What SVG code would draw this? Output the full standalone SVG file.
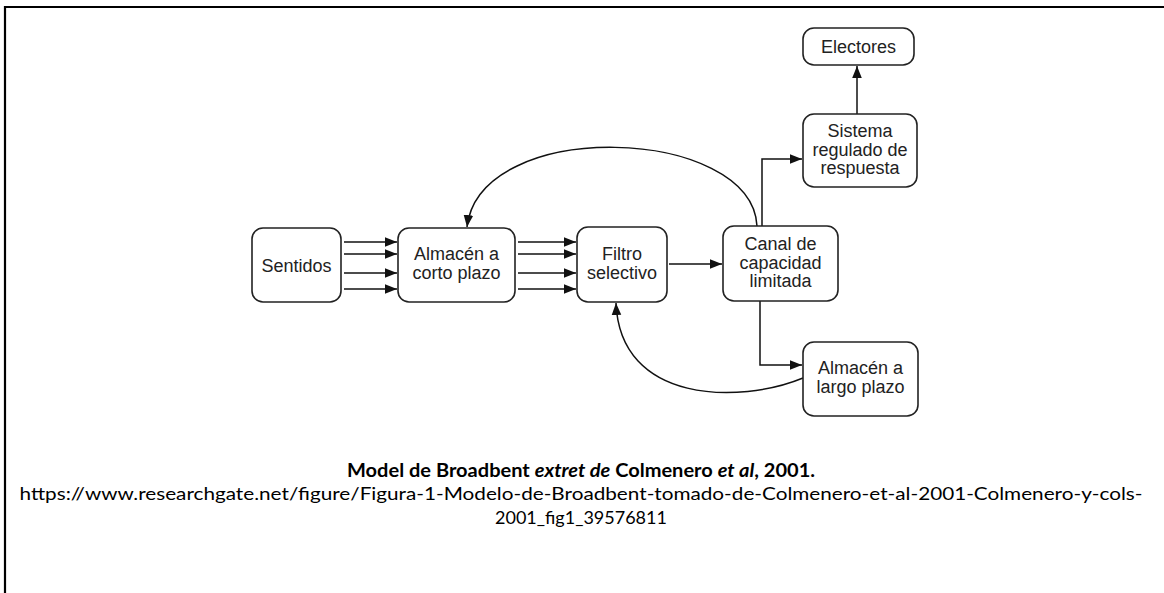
<svg xmlns="http://www.w3.org/2000/svg" width="1164" height="593" viewBox="0 0 1164 593">
<style>
.box{fill:#fff;stroke:#222;stroke-width:1.6}
.lbl{font-family:"Liberation Sans",Arial,sans-serif;font-size:18px;fill:#222;text-anchor:middle}
.con{fill:none;stroke:#111;stroke-width:1.5}
.cap{font-family:Lato,"Open Sans",sans-serif;font-size:18px;fill:#000;text-anchor:middle}
</style>
<defs>
<marker id="ahb" viewBox="0 0 10 10" refX="10" refY="5" markerWidth="12" markerHeight="12" markerUnits="userSpaceOnUse" orient="auto">
<path d="M0,1 L10,5 L0,9 z" fill="#111"/>
</marker>
</defs>
<rect width="1164" height="593" fill="#fff"/>
<path d="M5,593 V7 H1164" fill="none" stroke="#000" stroke-width="2.2"/>

<g id="connectors">
<line class="con" x1="344" y1="242" x2="397" y2="242" marker-end="url(#ahb)"/>
<line class="con" x1="344" y1="254" x2="397" y2="254" marker-end="url(#ahb)"/>
<line class="con" x1="344" y1="273" x2="397" y2="273" marker-end="url(#ahb)"/>
<line class="con" x1="344" y1="289" x2="397" y2="289" marker-end="url(#ahb)"/>
<line class="con" x1="518" y1="242" x2="576" y2="242" marker-end="url(#ahb)"/>
<line class="con" x1="518" y1="254" x2="576" y2="254" marker-end="url(#ahb)"/>
<line class="con" x1="518" y1="273" x2="576" y2="273" marker-end="url(#ahb)"/>
<line class="con" x1="518" y1="289" x2="576" y2="289" marker-end="url(#ahb)"/>
<line class="con" x1="669" y1="264" x2="722" y2="264" marker-end="url(#ahb)"/>
<line class="con" x1="857" y1="114" x2="857" y2="66" marker-end="url(#ahb)"/>
<path class="con" d="M762,226 V159 H802" marker-end="url(#ahb)"/>
<path class="con" d="M760,301 V365 H802" marker-end="url(#ahb)"/>
<path class="con" d="M757,226 C752,126 480,116 467,227" marker-end="url(#ahb)"/>
<path class="con" d="M803,378 C740,404 620,404 616,303" marker-end="url(#ahb)"/>
</g>

<g id="sentidos">
<rect class="box" x="252" y="228" width="89" height="74" rx="11"/>
<text class="lbl" x="296.5" y="271.5">Sentidos</text>
</g>
<g id="almacen-corto">
<rect class="box" x="398" y="228" width="117" height="74" rx="11"/>
<text class="lbl" x="456.5" y="260">Almacén a</text>
<text class="lbl" x="456.5" y="279">corto plazo</text>
</g>
<g id="filtro">
<rect class="box" x="577" y="227" width="90" height="75" rx="11"/>
<text class="lbl" x="622" y="260">Filtro</text>
<text class="lbl" x="622" y="279">selectivo</text>
</g>
<g id="canal">
<rect class="box" x="723" y="226" width="115" height="75" rx="11"/>
<text class="lbl" x="780.5" y="250">Canal de</text>
<text class="lbl" x="780.5" y="268.5">capacidad</text>
<text class="lbl" x="780.5" y="287">limitada</text>
</g>
<g id="sistema">
<rect class="box" x="803" y="114" width="114" height="73" rx="11"/>
<text class="lbl" x="860" y="137">Sistema</text>
<text class="lbl" x="860" y="155.5">regulado de</text>
<text class="lbl" x="860" y="174">respuesta</text>
</g>
<g id="electores">
<rect class="box" x="803" y="28" width="111" height="37" rx="11"/>
<text class="lbl" x="858.5" y="52.5">Electores</text>
</g>
<g id="almacen-largo">
<rect class="box" x="803" y="342" width="115" height="74" rx="11"/>
<text class="lbl" x="860.5" y="374">Almacén a</text>
<text class="lbl" x="860.5" y="393">largo plazo</text>
</g>

<g id="caption">
<text class="cap" x="581" y="477" font-size="19" font-weight="bold" textLength="468" lengthAdjust="spacingAndGlyphs">Model de Broadbent <tspan font-style="italic">extret de</tspan> Colmenero <tspan font-style="italic">et al</tspan>, 2001.</text>
<text class="cap" x="581" y="500" textLength="1123" lengthAdjust="spacingAndGlyphs">https://www.researchgate.net/figure/Figura-1-Modelo-de-Broadbent-tomado-de-Colmenero-et-al-2001-Colmenero-y-cols-</text>
<text class="cap" x="581" y="524">2001_fig1_39576811</text>
</g>
</svg>
